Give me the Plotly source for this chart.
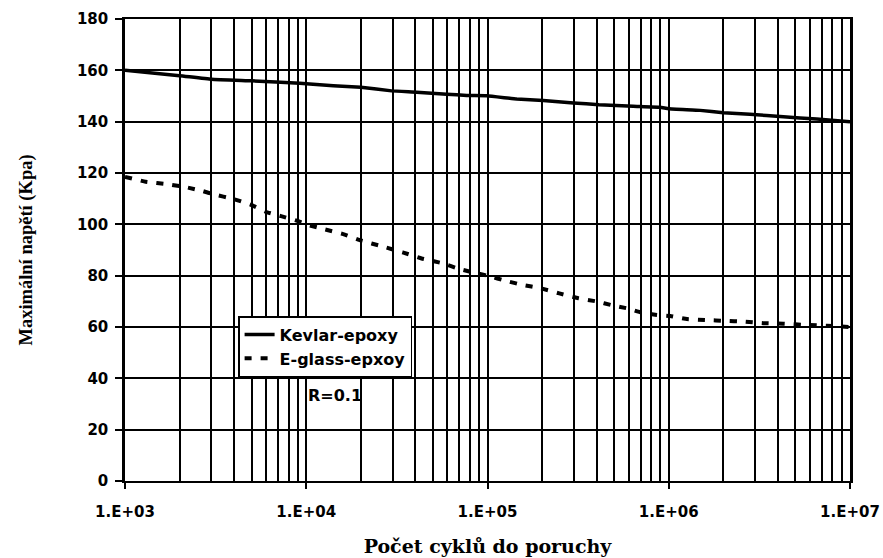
import plotly.graph_objects as go

# Kevlar-epoxy (solid)
kev_n = [1e3, 2e3, 3e3, 5e3, 9.2e3, 1.41e4, 2e4, 2.96e4, 4.07e4, 5.95e4, 7.68e4, 9.9e4,
         1.45e5, 2.03e5, 2.98e5, 4.12e5, 6.37e5, 8.95e5, 1e6, 1.49e6, 2e6, 2.8e6,
         4.29e6, 6.55e6, 1e7]
kev_s = [160, 157.9, 156.5, 155.9, 155.0, 154.0, 153.4, 152.0, 151.5, 150.7, 150.2, 150.1,
         148.8, 148.2, 147.3, 146.6, 146.0, 145.6, 145.0, 144.4, 143.5, 142.9,
         141.9, 141.0, 140.0]

# E-glass-epoxy (dashed)
egl_n = [1e3, 1.3e3, 1.73e3, 2.19e3, 2.7e3, 3.07e3, 3.96e3, 5e3, 5.97e3, 7.26e3, 8.97e3,
         1.03e4, 1.27e4, 1.6e4, 2.02e4, 2.6e4, 3.4e4, 4.33e4, 5.66e4, 7e4, 8.8e4,
         1.02e5, 1.26e5, 1.56e5, 1.96e5, 2.49e5, 3.17e5, 4.04e5, 4.78e5, 5.86e5, 7.1e5,
         8.6e5, 1.02e6, 1.26e6, 1.62e6, 2.04e6, 2.58e6, 3.32e6, 4.29e6, 5.77e6, 7.44e6, 1e7]
egl_s = [118.5, 116.6, 115.6, 114.4, 112.9, 111.7, 109.9, 107.5, 104.9, 103.2, 101.3,
         99.7, 98.0, 96.2, 93.6, 91.5, 89.1, 86.7, 84.8, 82.6, 80.9,
         79.8, 78.0, 76.4, 75.1, 73.1, 71.2, 69.9, 68.6, 67.3, 65.6,
         64.7, 64.3, 63.1, 62.7, 62.4, 62.1, 61.5, 61.3, 60.8, 60.5, 60.0]

x_ticks = [1e3, 1e4, 1e5, 1e6, 1e7]
x_labels = ["1.E+03", "1.E+04", "1.E+05", "1.E+06", "1.E+07"]
y_ticks = list(range(0, 181, 20))

minor_vals = [m * d for d in [1e3, 1e4, 1e5, 1e6] for m in range(2, 10)]

fig = go.Figure()
fig.add_trace(go.Scatter(x=kev_n, y=kev_s, mode="lines", name="Kevlar-epoxy",
                         line=dict(color="black", width=3.5, shape="spline", smoothing=0.3)))
fig.add_trace(go.Scatter(x=egl_n, y=egl_s, mode="lines", name="E-glass-epxoy",
                         line=dict(color="black", width=4, dash="7px,9px",
                                   shape="spline", smoothing=0.3)))

tickfont = dict(family="DejaVu Sans", size=15, color="black", weight="bold")

fig.update_layout(
    width=883, height=558,
    margin=dict(l=125, r=33, t=19, b=77),
    paper_bgcolor="white", plot_bgcolor="white",
    showlegend=True,
    legend=dict(x=0.156, y=0.357, xanchor="left", yanchor="top",
                bgcolor="white", bordercolor="black", borderwidth=1.5,
                font=dict(family="DejaVu Sans", size=16, color="black", weight="bold"),
                tracegroupgap=0, itemwidth=30,
                entrywidth=150, entrywidthmode="pixels"),
    xaxis=dict(type="log", range=[3, 7], tickmode="array", tickvals=x_ticks, ticktext=x_labels,
               automargin=False,
               showgrid=True, gridcolor="black", gridwidth=1.5,
               minor=dict(tickmode="array", tickvals=minor_vals, showgrid=True,
                          gridcolor="black", gridwidth=1.5, ticks=""),
               ticks="outside", ticklen=6, tickwidth=1.5, tickcolor="black",
               showline=True, linecolor="black", linewidth=1.5, mirror=True,
               tickfont=tickfont, ticklabelstandoff=10,
               title=dict(text="Počet cyklů do poruchy",
                          font=dict(family="DejaVu Serif", size=19, color="black", weight="bold"),
                          standoff=20),
               zeroline=False),
    yaxis=dict(range=[0, 180], tickmode="array", tickvals=y_ticks,
               automargin=False,
               showgrid=True, gridcolor="black", gridwidth=1.5,
               ticks="outside", ticklen=7, tickwidth=1.5, tickcolor="black",
               showline=True, linecolor="black", linewidth=2.5, mirror=True,
               tickfont=tickfont, ticklabelstandoff=4,
               title=dict(text="Maximální napětí (Kpa)",
                          font=dict(family="Liberation Serif", size=18.5, color="black", weight="bold"),
                          standoff=40),
               zeroline=False),
    annotations=[dict(text="R=0.1", x=0.29, y=0.186, xref="paper", yref="paper",
                      xanchor="center", yanchor="middle", showarrow=False,
                      font=dict(family="DejaVu Sans", size=16, color="black", weight="bold"))],
)

fig.write_html("out.html")
